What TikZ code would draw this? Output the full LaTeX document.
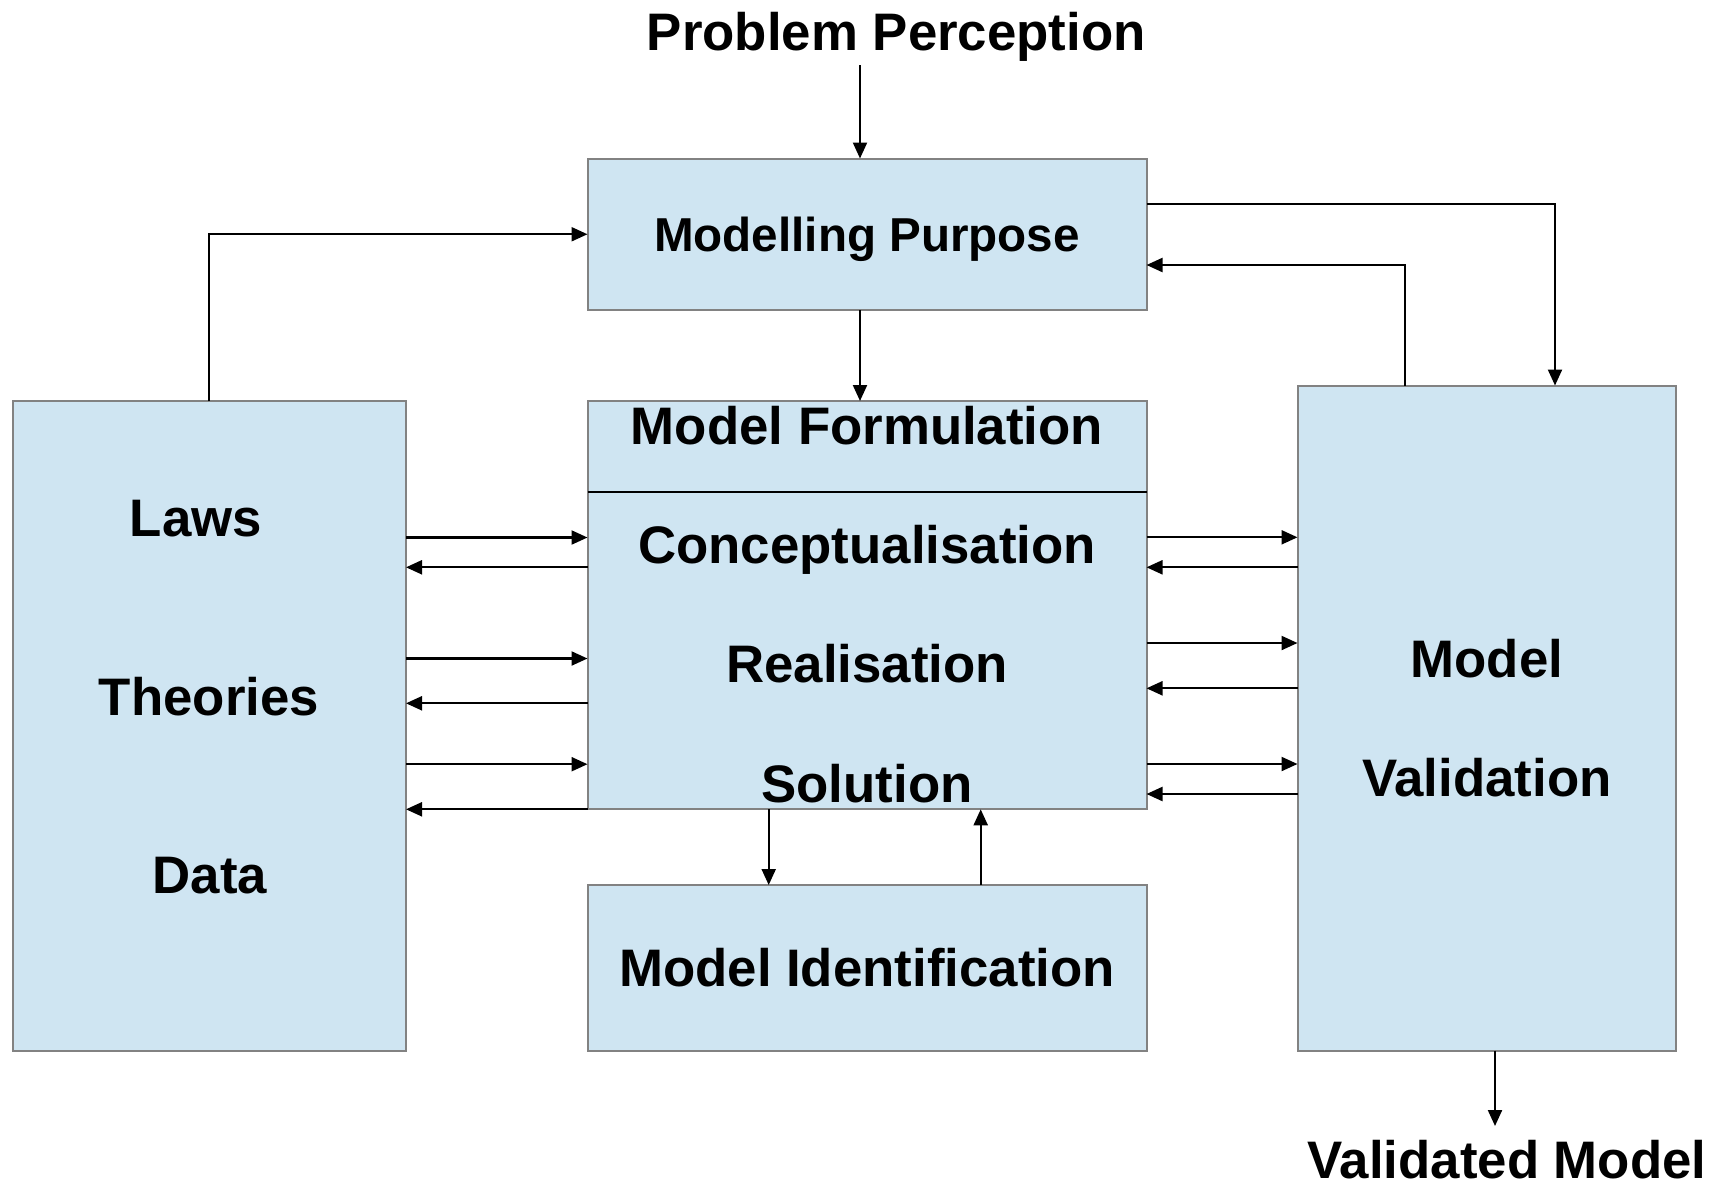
\documentclass[tikz,border=0pt]{standalone}
\usepackage{fontspec}
\setmainfont{Liberation Sans}
\usetikzlibrary{arrows.meta}
\definecolor{boxfill}{RGB}{207,229,242}
\definecolor{boxline}{RGB}{130,130,130}
\begin{document}
\begin{tikzpicture}[x=1pt,y=-1pt,
  box/.style={draw=boxline, line width=2pt, fill=boxfill, inner sep=0pt, outer sep=0pt, anchor=north west},
  lbl/.style={font=\bfseries\fontsize{52.8}{60}\selectfont, inner sep=0pt, outer sep=0pt, anchor=base},
  arr/.style={line width=2.2pt, -{Triangle[length=16pt,width=14pt]}},
  ln/.style={line width=2pt}]
\useasboundingbox (0,0) rectangle (1727,1187);

% boxes
\node[box, minimum width=559pt, minimum height=151.5pt,
      font=\bfseries\fontsize{47.6}{54}\selectfont, text height=34.1pt, text depth=0pt]
      (mp) at (587.5,158.5) {Modelling Purpose};
\node[box, minimum width=559pt, minimum height=408.3pt] (mf) at (587.5,401) {};
\node[box, minimum width=393.5pt, minimum height=649.7pt] (lb) at (12.5,401) {};
\node[box, minimum width=378pt, minimum height=665.2pt] (rb) at (1297.5,385.5) {};
\node[box, minimum width=559pt, minimum height=165.7pt,
      font=\bfseries\fontsize{52.8}{60}\selectfont, text height=37.8pt, text depth=0pt]
      (mi) at (587.5,885) {Model Identification};

% divider in model formulation box
\draw[ln] (mf.west |- 0,491.7) -- (mf.east |- 0,491.7);

% labels
\node[lbl] (pp) at (896.3,50) {Problem Perception};
\node[lbl] (mfl) at (867,444.3) {Model Formulation};
\node[lbl] (conc) at (867,563.3) {Conceptualisation};
\node[lbl] (real) at (867,682.3) {Realisation};
\node[lbl] (sol) at (867,802.3) {Solution};
\node[lbl] (laws) at (196,536) {Laws};
\node[lbl] (theo) at (209,715) {Theories};
\node[lbl] (data) at (210,893.3) {Data};
\node[lbl] (mvm) at (1487,677.5) {Model};
\node[lbl] (mvv) at (1487,796.6) {Validation};
\node[lbl] (vm) at (1507,1178) {Validated Model};

% free ends
\coordinate (ppend) at (860,65);
\coordinate (vmtop) at (1495,1126);

% top flow
\draw[arr] (ppend) -- (mp.north -| ppend);
\draw[arr] (mp.south -| ppend) -- (mf.north -| ppend);

% laws/theories/data to modelling purpose
\draw[arr] (lb.north) |- (mp.west);

% modelling purpose <-> validation
\draw[arr] (mp.east |- 0,204) -| (rb.north -| 1555,0);
\draw[arr] (rb.north -| 1405,0) |- (mp.east |- 0,265);

% left arrows
\draw[arr] (lb.east |- 0,537.5) -- (mf.west |- 0,537.5);
\draw[arr] (mf.west |- 0,567.3) -- (lb.east |- 0,567.3);
\draw[arr] (lb.east |- 0,658.5) -- (mf.west |- 0,658.5);
\draw[arr] (mf.west |- 0,703.3) -- (lb.east |- 0,703.3);
\draw[arr] (lb.east |- 0,764.2) -- (mf.west |- 0,764.2);
\draw[arr] (mf.west |- 0,809.3) -- (lb.east |- 0,809.3);

% right arrows
\draw[arr] (mf.east |- 0,537.3) -- (rb.west |- 0,537.3);
\draw[arr] (rb.west |- 0,567.3) -- (mf.east |- 0,567.3);
\draw[arr] (mf.east |- 0,643) -- (rb.west |- 0,643);
\draw[arr] (rb.west |- 0,688.3) -- (mf.east |- 0,688.3);
\draw[arr] (mf.east |- 0,764) -- (rb.west |- 0,764);
\draw[arr] (rb.west |- 0,794) -- (mf.east |- 0,794);

% model identification
\draw[arr] (mf.south -| 768.7,0) -- (mi.north -| 768.7,0);
\draw[arr] (mi.north -| 980.7,0) -- (mf.south -| 980.7,0);

% validated model
\draw[arr] (rb.south -| vmtop) -- (vmtop);
\end{tikzpicture}
\end{document}
